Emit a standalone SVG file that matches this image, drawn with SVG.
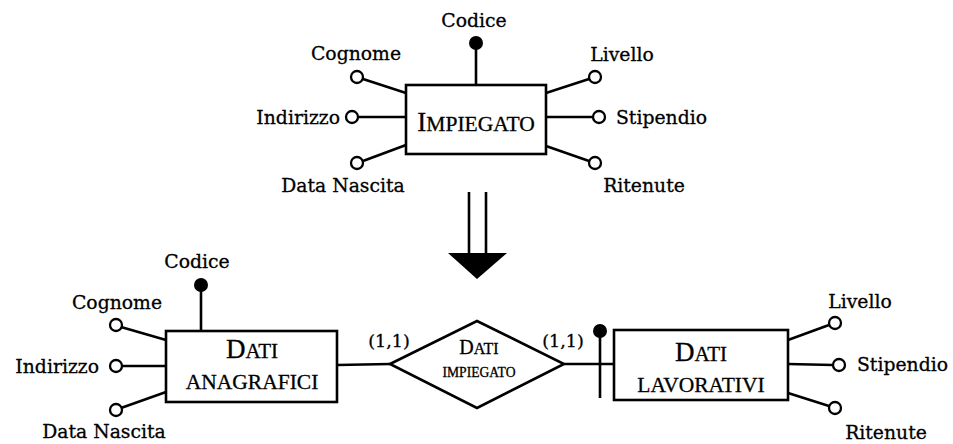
<svg xmlns="http://www.w3.org/2000/svg" width="953" height="444" viewBox="0 0 953 444">
  <style>
    .ent { fill: #fff; stroke: #000; stroke-width: 2.6; }
    .rel { fill: #fff; stroke: #000; stroke-width: 2.6; }
    .ln { stroke: #000; stroke-width: 2.6; fill: none; }
    .att { fill: #fff; stroke: #000; stroke-width: 2.3; }
    .key { fill: #000; }
    text { fill: #000; stroke: #000; stroke-width: 0.3; }
    .lbl { font-family: "DejaVu Serif", "Liberation Serif", serif; font-size: 18.8px; }
    .card { font-family: "DejaVu Serif", "Liberation Serif", serif; font-size: 17.5px; }
    .cap { font-family: "Liberation Serif", "DejaVu Serif", serif; }
  </style>
  <rect width="953" height="444" fill="#fff"/>

  <!-- connectors: attribute links, relationship links, transformation arrow -->
  <g id="connectors">
    <!-- IMPIEGATO attributes -->
    <line class="ln" x1="476" y1="85" x2="476" y2="43"/>
    <line class="ln" x1="363" y1="79" x2="406" y2="93"/>
    <line class="ln" x1="358" y1="117" x2="406" y2="117"/>
    <line class="ln" x1="363" y1="161" x2="406" y2="145"/>
    <line class="ln" x1="546" y1="93" x2="589" y2="79"/>
    <line class="ln" x1="546" y1="117" x2="593" y2="117"/>
    <line class="ln" x1="546" y1="146" x2="589" y2="161"/>
    <!-- transformation arrow -->
    <line class="ln" x1="469" y1="192" x2="469" y2="256" stroke-width="3"/>
    <line class="ln" x1="486" y1="192" x2="486" y2="256" stroke-width="3"/>
    <polygon points="448,253 507,253 477,279" fill="#000"/>
    <!-- DATI ANAGRAFICI attributes -->
    <line class="ln" x1="121" y1="327" x2="166" y2="340"/>
    <line class="ln" x1="201" y1="331" x2="201" y2="285"/>
    <line class="ln" x1="122" y1="366" x2="166" y2="366"/>
    <line class="ln" x1="121" y1="408" x2="166" y2="392"/>
    <!-- relationship links -->
    <line class="ln" x1="337" y1="365" x2="390" y2="364"/>
    <line class="ln" x1="564" y1="364" x2="614" y2="364"/>
    <!-- external identifier bar -->
    <line class="ln" x1="600" y1="331" x2="600" y2="398"/>
    <!-- DATI LAVORATIVI attributes -->
    <line class="ln" x1="788" y1="340" x2="829" y2="325"/>
    <line class="ln" x1="788" y1="364" x2="833" y2="365"/>
    <line class="ln" x1="788" y1="393" x2="829" y2="406"/>
  </g>

  <!-- entity IMPIEGATO -->
  <g id="impiegato">
    <rect class="ent" x="406" y="85" width="140" height="69"/>
    <text class="cap" x="476" y="131" text-anchor="middle"><tspan font-size="27">I</tspan><tspan font-size="21.5">MPIEGATO</tspan></text>
  </g>
  <g id="imp-codice">
    <circle class="key" cx="476" cy="43" r="7"/>
    <text class="lbl" x="474" y="27" text-anchor="middle">Codice</text>
  </g>
  <g id="imp-cognome">
    <circle class="att" cx="357" cy="77" r="6"/>
    <text class="lbl" x="356" y="60" text-anchor="middle">Cognome</text>
  </g>
  <g id="imp-indirizzo">
    <circle class="att" cx="352" cy="117" r="6"/>
    <text class="lbl" x="340" y="124" text-anchor="end">Indirizzo</text>
  </g>
  <g id="imp-datanascita">
    <circle class="att" cx="357" cy="163" r="6"/>
    <text class="lbl" x="343" y="192" text-anchor="middle">Data Nascita</text>
  </g>
  <g id="imp-livello">
    <circle class="att" cx="595" cy="77" r="6"/>
    <text class="lbl" x="622" y="61" text-anchor="middle">Livello</text>
  </g>
  <g id="imp-stipendio">
    <circle class="att" cx="599" cy="117" r="6"/>
    <text class="lbl" x="616" y="124">Stipendio</text>
  </g>
  <g id="imp-ritenute">
    <circle class="att" cx="595" cy="163" r="6"/>
    <text class="lbl" x="644" y="192" text-anchor="middle">Ritenute</text>
  </g>

  <!-- entity DATI ANAGRAFICI -->
  <g id="dati-anagrafici">
    <rect class="ent" x="166" y="331" width="171" height="71"/>
    <text class="cap" x="252" y="358" text-anchor="middle"><tspan font-size="27">D</tspan><tspan font-size="21">ATI</tspan></text>
    <text class="cap" x="252" y="389" text-anchor="middle" font-size="21.5">ANAGRAFICI</text>
  </g>
  <g id="ana-codice">
    <circle class="key" cx="201" cy="285" r="7"/>
    <text class="lbl" x="197" y="268" text-anchor="middle">Codice</text>
  </g>
  <g id="ana-cognome">
    <circle class="att" cx="116" cy="325" r="6"/>
    <text class="lbl" x="117" y="309" text-anchor="middle">Cognome</text>
  </g>
  <g id="ana-indirizzo">
    <circle class="att" cx="116" cy="366" r="6"/>
    <text class="lbl" x="99" y="373" text-anchor="end">Indirizzo</text>
  </g>
  <g id="ana-datanascita">
    <circle class="att" cx="116" cy="410" r="6"/>
    <text class="lbl" x="104" y="438" text-anchor="middle">Data Nascita</text>
  </g>

  <!-- relationship DATI IMPIEGATO -->
  <g id="dati-impiegato">
    <polygon class="rel" points="390,364 477,321 564,364 477,408"/>
    <text class="cap" x="479" y="354" text-anchor="middle"><tspan font-size="20">D</tspan><tspan font-size="16">ATI</tspan></text>
    <text class="cap" x="479" y="377" text-anchor="middle" font-size="13.6">IMPIEGATO</text>
    <text class="card" x="389" y="347" text-anchor="middle">(1,1)</text>
    <text class="card" x="563" y="347" text-anchor="middle">(1,1)</text>
  </g>

  <!-- entity DATI LAVORATIVI -->
  <g id="dati-lavorativi">
    <rect class="ent" x="614" y="330" width="174" height="70"/>
    <text class="cap" x="701" y="361" text-anchor="middle"><tspan font-size="27">D</tspan><tspan font-size="21">ATI</tspan></text>
    <text class="cap" x="701" y="392" text-anchor="middle" font-size="21.5">LAVORATIVI</text>
  </g>
  <g id="lav-identificatore">
    <circle class="key" cx="600" cy="331" r="7"/>
  </g>
  <g id="lav-livello">
    <circle class="att" cx="835" cy="323" r="6"/>
    <text class="lbl" x="860" y="308" text-anchor="middle">Livello</text>
  </g>
  <g id="lav-stipendio">
    <circle class="att" cx="839" cy="365" r="6"/>
    <text class="lbl" x="857" y="371">Stipendio</text>
  </g>
  <g id="lav-ritenute">
    <circle class="att" cx="835" cy="408" r="6"/>
    <text class="lbl" x="886" y="439" text-anchor="middle">Ritenute</text>
  </g>
</svg>
